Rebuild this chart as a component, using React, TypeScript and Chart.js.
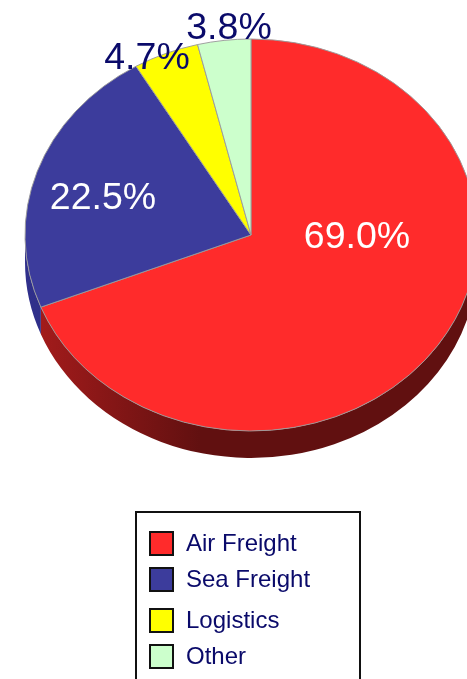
import React, { useEffect, useRef } from "react";
import { Chart, registerables } from "chart.js";

Chart.register(...registerables);

// ---- data ----
const categories = ["Air Freight", "Sea Freight", "Logistics", "Other"];
const shares = [69.0, 22.5, 4.7, 3.8];
const percentLabels = ["69.0%", "22.5%", "4.7%", "3.8%"];

// ---- styles ----
const topColors = ["#FF2B2B", "#3C3C9C", "#FFFF00", "#CCFFCC"];
const sideLight = ["#A81C1C", "#30308C", "#B0B000", "#90B090"];
const sideDark = ["#611010", "#222266", "#808000", "#709070"];
const labelColors = ["#FFFFFF", "#FFFFFF", "#0A0A6A", "#0A0A6A"];
// label centre offsets from the pie centre (px)
const labelOffsets = [
  [106, 1],
  [-148, -38],
  [-104, -178],
  [-22, -208],
];
const TEXT_NAVY = "#0A0A6A";
const FONT = "'Liberation Sans', Arial, sans-serif";
const RADIUS = 226;
const Y_SCALE = 196 / 226;
const DEPTH = 27;

const pie3d = {
  id: "pie3d",
  beforeDatasetsDraw(chart: any) {
    const ctx = chart.ctx as CanvasRenderingContext2D;
    const arcs = chart.getDatasetMeta(0).data as any[];
    if (!arcs.length) return;
    const cx = arcs[0].x;
    const cy = arcs[0].y;
    const r = arcs[0].outerRadius;
    const ry = r * Y_SCALE;
    arcs.forEach((arc: any, i: number) => {
      const a0 = Math.max(arc.startAngle, 0);
      const a1 = Math.min(arc.endAngle, Math.PI);
      if (a1 <= a0) return;
      const g = ctx.createLinearGradient(cx - r, 0, cx - r + 0.78 * r, 0);
      g.addColorStop(0, sideLight[i]);
      g.addColorStop(1, sideDark[i]);
      ctx.beginPath();
      ctx.ellipse(cx, cy, r, ry, 0, a0, a1, false);
      ctx.ellipse(cx, cy + DEPTH, r, ry, 0, a1, a0, true);
      ctx.closePath();
      ctx.fillStyle = g;
      ctx.fill();
    });
    ctx.save();
    ctx.translate(0, cy);
    ctx.scale(1, Y_SCALE);
    ctx.translate(0, -cy);
  },
  afterDatasetsDraw(chart: any) {
    const ctx = chart.ctx as CanvasRenderingContext2D;
    ctx.restore();
    const arcs = chart.getDatasetMeta(0).data as any[];
    if (!arcs.length) return;
    const cx = arcs[0].x;
    const cy = arcs[0].y;
    ctx.save();
    ctx.font = `37.5px ${FONT}`;
    ctx.textAlign = "center";
    ctx.textBaseline = "middle";
    percentLabels.forEach((t, i) => {
      ctx.fillStyle = labelColors[i];
      ctx.fillText(t, cx + labelOffsets[i][0], cy + labelOffsets[i][1] + 2);
    });
    ctx.restore();

    // legend box
    ctx.save();
    ctx.fillStyle = "#FFFFFF";
    ctx.fillRect(136, 512, 224, 200);
    ctx.strokeStyle = "#111111";
    ctx.lineWidth = 2;
    ctx.strokeRect(136, 512, 224, 200);
    ctx.font = `24px ${FONT}`;
    ctx.textAlign = "left";
    ctx.textBaseline = "middle";
    const rowTops = [531, 567, 608, 644];
    categories.forEach((c, i) => {
      const top = rowTops[i];
      ctx.fillStyle = topColors[i];
      ctx.fillRect(150, top + 1, 23, 23);
      ctx.strokeStyle = "#111111";
      ctx.lineWidth = 2;
      ctx.strokeRect(150, top + 1, 23, 23);
      ctx.fillStyle = TEXT_NAVY;
      ctx.fillText(c, 186, top + 13.5);
    });
    ctx.restore();
  },
};

export default function App() {
  const ref = useRef<HTMLCanvasElement>(null);
  useEffect(() => {
    const canvas = ref.current;
    if (!canvas) return;
    const chart = new Chart(canvas, {
      type: "pie",
      data: {
        labels: categories,
        datasets: [
          {
            data: shares,
            backgroundColor: topColors,
            borderColor: "#9A9A9A",
            borderWidth: 1,
            radius: RADIUS,
            clip: false,
          } as any,
        ],
      },
      options: {
        responsive: true,
        maintainAspectRatio: false,
        animation: false,
        events: [],
        layout: { padding: { left: 41, right: 6, top: 10, bottom: 219 } },
        plugins: {
          legend: { display: false },
          tooltip: { enabled: false },
        },
      },
      plugins: [pie3d],
    });
    return () => chart.destroy();
  }, []);
  return (
    <div
      style={{
        position: "absolute",
        left: 0,
        top: 0,
        width: 467,
        height: 679,
        overflow: "hidden",
        background: "#FFFFFF",
      }}
    >
      <canvas ref={ref} />
    </div>
  );
}
